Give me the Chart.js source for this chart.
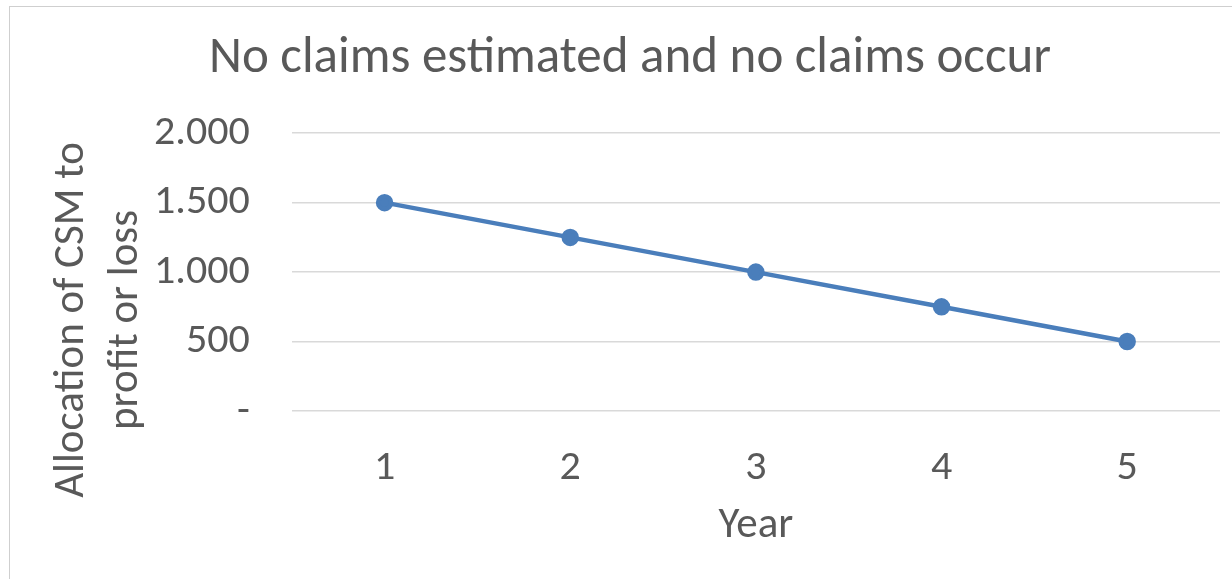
<!DOCTYPE html>
<html><head><meta charset="utf-8">
<script src="https://cdn.jsdelivr.net/npm/chart.js@4/dist/chart.umd.min.js"></script>
<style>
html,body{margin:0;padding:0;background:#fff;overflow:hidden}
#wrap{position:absolute;left:0;top:0;width:1232px;height:579px}
#frame{position:absolute;left:9px;top:6px;width:1240px;height:600px;border:1.5px solid #cfcfcf;box-sizing:border-box;pointer-events:none}
</style></head>
<body>
<div id="wrap"><canvas id="c" width="1232" height="579"></canvas><div id="frame"></div></div>
<script>
const categories = ['1','2','3','4','5'];
const csmValues = [1500, 1250, 1000, 750, 500];
const yTickValues = [0, 500, 1000, 1500, 2000];
const yTickLabels = ['-', '500', '1.000', '1.500', '2.000'];
const chartTitle = 'No claims estimated and no claims occur';
const xTitle = 'Year';
const yTitle = ['Allocation of CSM to', 'profit or loss'];

const FONT = "Calibri, Carlito, 'Open Sans', 'Noto Sans', sans-serif";

// y-axis title, centred on the chart's body like the reference
const yTitlePlugin = {
  id: 'yTitle',
  afterDraw(chart) {
    const ctx = chart.ctx;
    ctx.save();
    ctx.fillStyle = '#595959';
    ctx.font = '43px ' + FONT;
    ctx.textAlign = 'center';
    ctx.textBaseline = 'alphabetic';
    ctx.translate(0, 320);
    ctx.rotate(-Math.PI / 2);
    const baselines = [83, 137];
    yTitle.forEach((t, i) => ctx.fillText(t, 0, baselines[i]));
    ctx.restore();
  }
};

new Chart(document.getElementById('c'), {
  type: 'line',
  data: { labels: categories, datasets: [{ data: csmValues, borderColor: '#4a7ebb', backgroundColor: '#4a7ebb', borderWidth: 4.5, pointRadius: 6.5, pointHoverRadius: 6.5, tension: 0 }] },
  plugins: [yTitlePlugin],
  options: {
    responsive: false, animation: false,
    layout: { padding: { left: 40, right: 12, top: 29, bottom: 27 } },
    plugins: {
      legend: { display: false }, tooltip: { enabled: false },
      title: { display: true, text: chartTitle, color: '#595959', font: { family: FONT, size: 51, weight: 'normal' }, padding: { top: 0, bottom: 43 } }
    },
    scales: {
      x: { offset: true, grid: { display: false, drawTicks: false }, border: { display: false },
           ticks: { color: '#595959', font: { family: FONT, size: 42 }, padding: 32 },
           title: { display: true, text: xTitle, color: '#595959', font: { family: FONT, size: 43 }, padding: { top: -25, bottom: 0 } } },
      y: { min: 0, max: 2000, border: { display: false },
           grid: { color: '#d9d9d9', lineWidth: 1.5, drawTicks: false },
           afterBuildTicks: (s) => { s.ticks = yTickValues.map(v => ({ value: v })); },
           afterFit: (s) => { s.width += 72; },
           ticks: { color: '#595959', font: { family: FONT, size: 42 }, padding: 42,
                    callback: (v) => { const i = yTickValues.indexOf(v); return i >= 0 ? yTickLabels[i] : ''; } },
           title: { display: false } }
    }
  }
});
</script>
</body></html>
